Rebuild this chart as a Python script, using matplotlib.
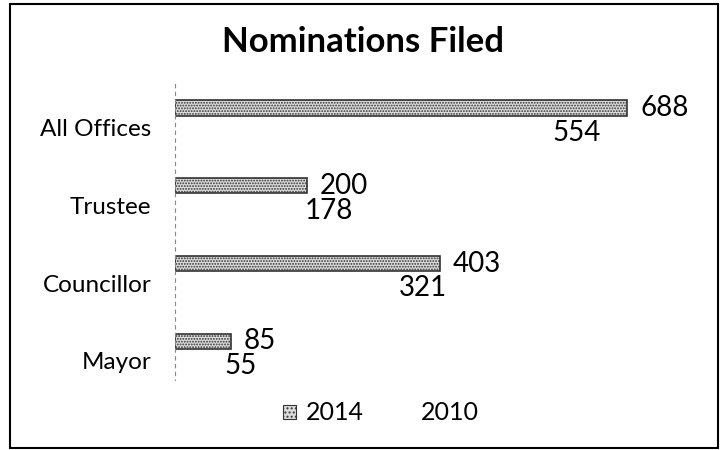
import matplotlib
matplotlib.use("Agg")
import matplotlib.pyplot as plt
from matplotlib.patches import Rectangle, Patch

plt.rcParams['font.family'] = ['Lato', 'DejaVu Sans']
plt.rcParams['hatch.linewidth'] = 0.9
plt.rcParams['hatch.color'] = '#555555'

# nominations per office
offices = ['All Offices', 'Trustee', 'Councillor', 'Mayor']
noms_2014 = [688, 200, 403, 85]
noms_2010 = [554, 178, 321, 55]
years = ['2014', '2010']

fig = plt.figure(figsize=(7.26, 4.5), dpi=100)
ax = fig.add_axes([175 / 726, 1 - 392 / 450, 526 / 726, 327 / 450])

pos = list(range(len(offices)))
bar_h = 0.2
y14 = [p - 0.25 for p in pos]
y10 = [p + 0.07 for p in pos]

b14 = ax.barh(y14, noms_2014, height=bar_h, color='#dcdcdc', hatch='......',
              edgecolor='#333333', linewidth=1.2)
b10 = ax.barh(y10, noms_2010, height=bar_h, color='white', edgecolor='none')

for v, y in zip(noms_2014, y14):
    ax.text(v + 20, y, str(v), va='center', ha='left', fontsize=20)
for v, y in zip(noms_2010, y10):
    ax.text(v + 20, y, str(v), va='center', ha='left', fontsize=20)

ax.set_xlim(0, 800)
ax.set_ylim(3.4, -0.8)
ax.set_yticks(pos)
ax.set_yticklabels(offices, fontsize=17.5)
ax.tick_params(axis='y', length=0, pad=17)
ax.set_xticks([])
for s in ['top', 'right', 'bottom']:
    ax.spines[s].set_visible(False)
ax.spines['left'].set_linestyle((0, (3, 4)))
ax.spines['left'].set_color('#888888')
ax.spines['left'].set_linewidth(0.8)
ax.spines['left'].set_bounds(-0.55, 3.25)

fig.text(363 / 726, 1 - 42 / 450, 'Nominations Filed', ha='center', va='center',
         fontsize=25, fontweight='bold')

handles = [Patch(facecolor='#dcdcdc', hatch='....', edgecolor='#333333', linewidth=0.8),
           Patch(facecolor='white', edgecolor='none')]
fig.legend(handles, years, loc='center', bbox_to_anchor=(381 / 726, 1 - 413 / 450),
           ncol=2, frameon=False, fontsize=18, handlelength=0.5, handleheight=0.5,
           handletextpad=0.4, columnspacing=1.4)

# outer frame
fig.patches.append(Rectangle((10 / 726, 2 / 450), 708 / 726, 444 / 450,
                             transform=fig.transFigure, fill=False,
                             edgecolor='black', linewidth=1.5))

fig.savefig('out.png', dpi=100)
